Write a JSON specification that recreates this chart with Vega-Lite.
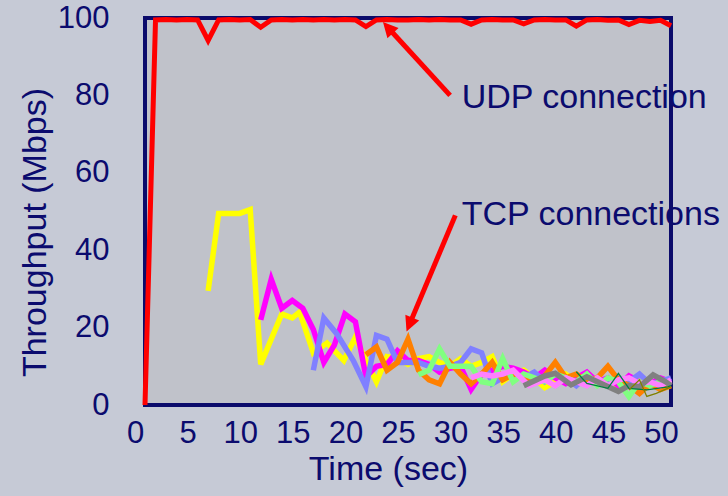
{
  "$schema": "https://vega.github.io/schema/vega-lite/v6.json",
  "width": 526,
  "height": 387,
  "autosize": "none",
  "padding": {"left": 145, "top": 18, "right": 57, "bottom": 91},
  "background": "#c6cad6",
  "config": {
    "view": {"fill": "#c0c2ca", "stroke": "#0b0b6b", "strokeWidth": 4},
    "font": "Liberation Sans",
    "axis": {"grid": false, "domain": false, "ticks": false, "labelFlush": false, "labelOverlap": false, "labelColor": "#0b0b6e", "titleColor": "#0b0b6e", "labelFont": "Liberation Sans", "titleFont": "Liberation Sans", "titleFontWeight": "normal"}
  },
  "datasets": {
    "series": [
      {"series": "UDP", "t": 0, "v": 0}, {"series": "UDP", "t": 1, "v": 99.5}, {"series": "UDP", "t": 2, "v": 99.6}, {"series": "UDP", "t": 3, "v": 99.5}, {"series": "UDP", "t": 4, "v": 99.6}, {"series": "UDP", "t": 5, "v": 99.5}, {"series": "UDP", "t": 6, "v": 94.2}, {"series": "UDP", "t": 7, "v": 99.5}, {"series": "UDP", "t": 8, "v": 99.6}, {"series": "UDP", "t": 9, "v": 99.5}, {"series": "UDP", "t": 10, "v": 99.6}, {"series": "UDP", "t": 11, "v": 97.6}, {"series": "UDP", "t": 12, "v": 99.5}, {"series": "UDP", "t": 13, "v": 99.6}, {"series": "UDP", "t": 14, "v": 99.5}, {"series": "UDP", "t": 15, "v": 99.6}, {"series": "UDP", "t": 16, "v": 99.5}, {"series": "UDP", "t": 17, "v": 99.6}, {"series": "UDP", "t": 18, "v": 99.5}, {"series": "UDP", "t": 19, "v": 99.6}, {"series": "UDP", "t": 20, "v": 99.5}, {"series": "UDP", "t": 21, "v": 97.8}, {"series": "UDP", "t": 22, "v": 99.5}, {"series": "UDP", "t": 23, "v": 99.6}, {"series": "UDP", "t": 24, "v": 99.5}, {"series": "UDP", "t": 25, "v": 99.5}, {"series": "UDP", "t": 26, "v": 99.6}, {"series": "UDP", "t": 27, "v": 99.5}, {"series": "UDP", "t": 28, "v": 99.6}, {"series": "UDP", "t": 29, "v": 99.5}, {"series": "UDP", "t": 30, "v": 99.5}, {"series": "UDP", "t": 31, "v": 98.4}, {"series": "UDP", "t": 32, "v": 99.5}, {"series": "UDP", "t": 33, "v": 99.6}, {"series": "UDP", "t": 34, "v": 99.5}, {"series": "UDP", "t": 35, "v": 99.5}, {"series": "UDP", "t": 36, "v": 98.5}, {"series": "UDP", "t": 37, "v": 99.5}, {"series": "UDP", "t": 38, "v": 99.6}, {"series": "UDP", "t": 39, "v": 99.5}, {"series": "UDP", "t": 40, "v": 99.5}, {"series": "UDP", "t": 41, "v": 97.9}, {"series": "UDP", "t": 42, "v": 99.5}, {"series": "UDP", "t": 43, "v": 99.6}, {"series": "UDP", "t": 44, "v": 99.4}, {"series": "UDP", "t": 45, "v": 99.5}, {"series": "UDP", "t": 46, "v": 98.3}, {"series": "UDP", "t": 47, "v": 99.4}, {"series": "UDP", "t": 48, "v": 99.1}, {"series": "UDP", "t": 49, "v": 99.4}, {"series": "UDP", "t": 50, "v": 98.0},

      {"series": "TCP1", "t": 6, "v": 29.5}, {"series": "TCP1", "t": 7, "v": 49.5}, {"series": "TCP1", "t": 9, "v": 49.5}, {"series": "TCP1", "t": 10, "v": 50.5}, {"series": "TCP1", "t": 11, "v": 10.5}, {"series": "TCP1", "t": 13, "v": 23.5}, {"series": "TCP1", "t": 14, "v": 22.5}, {"series": "TCP1", "t": 14.7, "v": 24}, {"series": "TCP1", "t": 16, "v": 13.5}, {"series": "TCP1", "t": 17.3, "v": 16}, {"series": "TCP1", "t": 18.9, "v": 11.5}, {"series": "TCP1", "t": 20, "v": 17.5}, {"series": "TCP1", "t": 21, "v": 11.5}, {"series": "TCP1", "t": 22, "v": 6}, {"series": "TCP1", "t": 23, "v": 12.5}, {"series": "TCP1", "t": 24, "v": 12}, {"series": "TCP1", "t": 25, "v": 10.5}, {"series": "TCP1", "t": 26, "v": 12}, {"series": "TCP1", "t": 27, "v": 12.5}, {"series": "TCP1", "t": 28, "v": 11}, {"series": "TCP1", "t": 29, "v": 10}, {"series": "TCP1", "t": 30, "v": 12}, {"series": "TCP1", "t": 31, "v": 10}, {"series": "TCP1", "t": 32, "v": 11}, {"series": "TCP1", "t": 33, "v": 12.5}, {"series": "TCP1", "t": 34, "v": 6}, {"series": "TCP1", "t": 35, "v": 8}, {"series": "TCP1", "t": 36, "v": 9}, {"series": "TCP1", "t": 37, "v": 7}, {"series": "TCP1", "t": 38, "v": 4.5}, {"series": "TCP1", "t": 39, "v": 6}, {"series": "TCP1", "t": 40, "v": 8}, {"series": "TCP1", "t": 41, "v": 6}, {"series": "TCP1", "t": 42, "v": 7}, {"series": "TCP1", "t": 43, "v": 5.5}, {"series": "TCP1", "t": 44, "v": 6.5}, {"series": "TCP1", "t": 45, "v": 5}, {"series": "TCP1", "t": 46, "v": 7}, {"series": "TCP1", "t": 47, "v": 6}, {"series": "TCP1", "t": 48, "v": 5}, {"series": "TCP1", "t": 49, "v": 6.5}, {"series": "TCP1", "t": 50, "v": 5.5},

      {"series": "TCP2", "t": 11, "v": 22}, {"series": "TCP2", "t": 12, "v": 32.5}, {"series": "TCP2", "t": 13, "v": 25}, {"series": "TCP2", "t": 14, "v": 27}, {"series": "TCP2", "t": 15, "v": 25}, {"series": "TCP2", "t": 16, "v": 19.5}, {"series": "TCP2", "t": 17, "v": 11}, {"series": "TCP2", "t": 18, "v": 15.5}, {"series": "TCP2", "t": 19, "v": 23.5}, {"series": "TCP2", "t": 20, "v": 21.5}, {"series": "TCP2", "t": 21, "v": 7.3}, {"series": "TCP2", "t": 22, "v": 10}, {"series": "TCP2", "t": 23, "v": 10.5}, {"series": "TCP2", "t": 24, "v": 14}, {"series": "TCP2", "t": 25, "v": 11.5}, {"series": "TCP2", "t": 26, "v": 11.5}, {"series": "TCP2", "t": 27, "v": 10.5}, {"series": "TCP2", "t": 28, "v": 8.5}, {"series": "TCP2", "t": 29, "v": 9.5}, {"series": "TCP2", "t": 30, "v": 10}, {"series": "TCP2", "t": 31, "v": 4}, {"series": "TCP2", "t": 32, "v": 8}, {"series": "TCP2", "t": 33, "v": 9}, {"series": "TCP2", "t": 34, "v": 10}, {"series": "TCP2", "t": 35, "v": 9.5}, {"series": "TCP2", "t": 36, "v": 8.5}, {"series": "TCP2", "t": 37, "v": 7}, {"series": "TCP2", "t": 38, "v": 9}, {"series": "TCP2", "t": 39, "v": 7}, {"series": "TCP2", "t": 40, "v": 5.5}, {"series": "TCP2", "t": 41, "v": 7}, {"series": "TCP2", "t": 42, "v": 8.5}, {"series": "TCP2", "t": 43, "v": 6}, {"series": "TCP2", "t": 44, "v": 7}, {"series": "TCP2", "t": 45, "v": 5}, {"series": "TCP2", "t": 46, "v": 7.5}, {"series": "TCP2", "t": 47, "v": 6}, {"series": "TCP2", "t": 48, "v": 5.5}, {"series": "TCP2", "t": 49, "v": 7}, {"series": "TCP2", "t": 50, "v": 6},

      {"series": "TCP3", "t": 16, "v": 9}, {"series": "TCP3", "t": 17, "v": 22.5}, {"series": "TCP3", "t": 18.2, "v": 18.5}, {"series": "TCP3", "t": 19.8, "v": 11.5}, {"series": "TCP3", "t": 21, "v": 4.7}, {"series": "TCP3", "t": 22, "v": 18}, {"series": "TCP3", "t": 23, "v": 17}, {"series": "TCP3", "t": 24, "v": 11}, {"series": "TCP3", "t": 25, "v": 11}, {"series": "TCP3", "t": 26, "v": 11}, {"series": "TCP3", "t": 27, "v": 10}, {"series": "TCP3", "t": 28, "v": 9.5}, {"series": "TCP3", "t": 29, "v": 10}, {"series": "TCP3", "t": 30, "v": 11}, {"series": "TCP3", "t": 31, "v": 14.5}, {"series": "TCP3", "t": 32, "v": 13.5}, {"series": "TCP3", "t": 33, "v": 5.5}, {"series": "TCP3", "t": 34, "v": 7}, {"series": "TCP3", "t": 35, "v": 8}, {"series": "TCP3", "t": 36, "v": 7}, {"series": "TCP3", "t": 37, "v": 8.5}, {"series": "TCP3", "t": 38, "v": 6}, {"series": "TCP3", "t": 39, "v": 8}, {"series": "TCP3", "t": 40, "v": 7}, {"series": "TCP3", "t": 41, "v": 5}, {"series": "TCP3", "t": 42, "v": 7.5}, {"series": "TCP3", "t": 43, "v": 6}, {"series": "TCP3", "t": 44, "v": 5.5}, {"series": "TCP3", "t": 45, "v": 7}, {"series": "TCP3", "t": 46, "v": 6}, {"series": "TCP3", "t": 47, "v": 8}, {"series": "TCP3", "t": 48, "v": 5.5}, {"series": "TCP3", "t": 49, "v": 6}, {"series": "TCP3", "t": 50, "v": 7},

      {"series": "TCP4", "t": 21, "v": 13}, {"series": "TCP4", "t": 22, "v": 15}, {"series": "TCP4", "t": 23, "v": 9}, {"series": "TCP4", "t": 24, "v": 11}, {"series": "TCP4", "t": 25, "v": 17}, {"series": "TCP4", "t": 26, "v": 9}, {"series": "TCP4", "t": 27, "v": 6.5}, {"series": "TCP4", "t": 28, "v": 5.5}, {"series": "TCP4", "t": 29, "v": 11}, {"series": "TCP4", "t": 30, "v": 8}, {"series": "TCP4", "t": 31, "v": 5.5}, {"series": "TCP4", "t": 32, "v": 8}, {"series": "TCP4", "t": 33, "v": 11}, {"series": "TCP4", "t": 34, "v": 6.5}, {"series": "TCP4", "t": 35, "v": 8}, {"series": "TCP4", "t": 36, "v": 7}, {"series": "TCP4", "t": 37, "v": 6}, {"series": "TCP4", "t": 38, "v": 7.5}, {"series": "TCP4", "t": 39, "v": 11}, {"series": "TCP4", "t": 40, "v": 7}, {"series": "TCP4", "t": 41, "v": 8}, {"series": "TCP4", "t": 42, "v": 6}, {"series": "TCP4", "t": 43, "v": 7}, {"series": "TCP4", "t": 44, "v": 10}, {"series": "TCP4", "t": 45, "v": 6.5}, {"series": "TCP4", "t": 46, "v": 5}, {"series": "TCP4", "t": 47, "v": 3}, {"series": "TCP4", "t": 48, "v": 5.5}, {"series": "TCP4", "t": 49, "v": 4}, {"series": "TCP4", "t": 50, "v": 5},

      {"series": "TCP5", "t": 26, "v": 7.8}, {"series": "TCP5", "t": 27, "v": 9}, {"series": "TCP5", "t": 28, "v": 14.5}, {"series": "TCP5", "t": 29, "v": 10}, {"series": "TCP5", "t": 30, "v": 10}, {"series": "TCP5", "t": 31, "v": 10}, {"series": "TCP5", "t": 32, "v": 6}, {"series": "TCP5", "t": 33, "v": 5.5}, {"series": "TCP5", "t": 34, "v": 12}, {"series": "TCP5", "t": 35, "v": 6}, {"series": "TCP5", "t": 36, "v": 8}, {"series": "TCP5", "t": 37, "v": 7}, {"series": "TCP5", "t": 38, "v": 6}, {"series": "TCP5", "t": 39, "v": 8}, {"series": "TCP5", "t": 40, "v": 7}, {"series": "TCP5", "t": 41, "v": 6}, {"series": "TCP5", "t": 42, "v": 8}, {"series": "TCP5", "t": 43, "v": 5}, {"series": "TCP5", "t": 44, "v": 7}, {"series": "TCP5", "t": 45, "v": 6}, {"series": "TCP5", "t": 46, "v": 2.2}, {"series": "TCP5", "t": 47, "v": 6}, {"series": "TCP5", "t": 48, "v": 5}, {"series": "TCP5", "t": 49, "v": 6}, {"series": "TCP5", "t": 50, "v": 5.5},

      {"series": "TCP6", "t": 31, "v": 7}, {"series": "TCP6", "t": 32, "v": 8}, {"series": "TCP6", "t": 33, "v": 7.5}, {"series": "TCP6", "t": 34, "v": 8}, {"series": "TCP6", "t": 35, "v": 9}, {"series": "TCP6", "t": 36.5, "v": 5}, {"series": "TCP6", "t": 38, "v": 6.5}, {"series": "TCP6", "t": 39, "v": 5}, {"series": "TCP6", "t": 40, "v": 7}, {"series": "TCP6", "t": 41, "v": 6}, {"series": "TCP6", "t": 42, "v": 5}, {"series": "TCP6", "t": 43, "v": 7}, {"series": "TCP6", "t": 44, "v": 5}, {"series": "TCP6", "t": 45, "v": 6.5}, {"series": "TCP6", "t": 46, "v": 7}, {"series": "TCP6", "t": 47, "v": 5.5}, {"series": "TCP6", "t": 48, "v": 6}, {"series": "TCP6", "t": 49, "v": 5}, {"series": "TCP6", "t": 50, "v": 6.5},

      {"series": "TCP7", "t": 36, "v": 5}, {"series": "TCP7", "t": 38, "v": 7.5}, {"series": "TCP7", "t": 39, "v": 8.2}, {"series": "TCP7", "t": 40.5, "v": 5.2}, {"series": "TCP7", "t": 42, "v": 7.3}, {"series": "TCP7", "t": 43, "v": 6}, {"series": "TCP7", "t": 45, "v": 3.5}, {"series": "TCP7", "t": 46, "v": 5}, {"series": "TCP7", "t": 47, "v": 4.7}, {"series": "TCP7", "t": 48.3, "v": 7.8}, {"series": "TCP7", "t": 49.5, "v": 6}, {"series": "TCP7", "t": 50, "v": 5},

      {"series": "TCP8", "t": 41, "v": 8.6}, {"series": "TCP8", "t": 42, "v": 5.6}, {"series": "TCP8", "t": 44, "v": 4.3}, {"series": "TCP8", "t": 45, "v": 8.2}, {"series": "TCP8", "t": 46, "v": 4.3}, {"series": "TCP8", "t": 47.7, "v": 3.9}, {"series": "TCP8", "t": 49.7, "v": 4.7}, {"series": "TCP8", "t": 50, "v": 5},

      {"series": "TCP9", "t": 46, "v": 3.9}, {"series": "TCP9", "t": 47, "v": 6.5}, {"series": "TCP9", "t": 47.7, "v": 2.2}, {"series": "TCP9", "t": 48.6, "v": 3}, {"series": "TCP9", "t": 50, "v": 4.7}
    ],
    "notes": [
      {"label": "UDP connection", "x": 30.1, "y": 79.3, "x0": 29.0, "y0": 80.0, "x1": 23.13, "y1": 97.4, "tx": 22.62, "ty": 98.97, "kind": "udp"},
      {"label": "TCP connections", "x": 30.1, "y": 49.1, "x0": 29.5, "y0": 49.0, "x1": 25.15, "y1": 20.9, "tx": 24.86, "ty": 18.99, "kind": "tcp"}
    ]
  },
  "layer": [
    {
      "data": {"name": "series"},
      "transform": [{"filter": "datum.series !== 'UDP' && datum.series !== 'TCP8' && datum.series !== 'TCP9'"}],
      "mark": {"type": "line", "strokeWidth": 5.5, "strokeJoin": "miter"},
      "encoding": {
        "x": {"field": "t", "type": "quantitative", "scale": {"domain": [0, 50], "nice": false, "zero": false},
          "axis": {"values": [0, 5, 10, 15, 20, 25, 30, 35, 40, 45, 50], "labelFontSize": 31, "labelOffset": -10, "labelPadding": 13, "title": "Time (sec)", "titleFontSize": 34, "titlePadding": 4, "titleX": 243}},
        "y": {"field": "v", "type": "quantitative", "scale": {"domain": [0, 100], "nice": false},
          "axis": {"values": [0, 20, 40, 60, 80, 100], "labelFontSize": 31, "labelPadding": 36, "title": "Throughput (Mbps)", "titleFontSize": 34, "titleX": -110, "titleY": 214, "titleAngle": -90, "titleBaseline": "middle", "titleAlign": "center"}},
        "color": {"field": "series", "type": "nominal", "legend": null,
          "scale": {"domain": ["UDP", "TCP1", "TCP2", "TCP3", "TCP4", "TCP5", "TCP6", "TCP7", "TCP8", "TCP9"],
                    "range": ["#ff0000", "#ffff00", "#ff00ff", "#8080ff", "#ff8000", "#80ff80", "#ff80ff", "#808080", "#008040", "#808000"]}},
        "order": {"field": "t", "type": "quantitative"}
      }
    },
    {
      "data": {"name": "series"},
      "transform": [{"filter": "datum.series === 'TCP8' || datum.series === 'TCP9'"}],
      "mark": {"type": "line", "strokeWidth": 1.3},
      "encoding": {
        "x": {"field": "t", "type": "quantitative"},
        "y": {"field": "v", "type": "quantitative"},
        "color": {"field": "series", "type": "nominal", "legend": null},
        "order": {"field": "t", "type": "quantitative"}
      }
    },
    {
      "data": {"name": "series"},
      "transform": [{"filter": "datum.series === 'UDP'"}],
      "mark": {"type": "line", "strokeWidth": 5, "strokeJoin": "miter"},
      "encoding": {
        "x": {"field": "t", "type": "quantitative"},
        "y": {"field": "v", "type": "quantitative"},
        "color": {"field": "series", "type": "nominal", "legend": null},
        "order": {"field": "t", "type": "quantitative"}
      }
    },
    {
      "data": {"name": "notes"},
      "mark": {"type": "rule", "color": "#ff0000", "strokeWidth": 5},
      "encoding": {
        "x": {"field": "x0", "type": "quantitative"},
        "y": {"field": "y0", "type": "quantitative"},
        "x2": {"field": "x1"},
        "y2": {"field": "y1"}
      }
    },
    {
      "data": {"name": "notes"},
      "transform": [{"filter": "datum.kind === 'udp'"}],
      "mark": {"type": "point", "shape": "M0,0L-0.5,1L0.5,1Z", "filled": true, "color": "#ff0000", "opacity": 1, "size": 900, "angle": 318},
      "encoding": {
        "x": {"field": "tx", "type": "quantitative"},
        "y": {"field": "ty", "type": "quantitative"}
      }
    },
    {
      "data": {"name": "notes"},
      "transform": [{"filter": "datum.kind === 'tcp'"}],
      "mark": {"type": "point", "shape": "M0,0L-0.5,1L0.5,1Z", "filled": true, "color": "#ff0000", "opacity": 1, "size": 900, "angle": 202.5},
      "encoding": {
        "x": {"field": "tx", "type": "quantitative"},
        "y": {"field": "ty", "type": "quantitative"}
      }
    },
    {
      "data": {"name": "notes"},
      "mark": {"type": "text", "align": "left", "baseline": "middle", "fontSize": 34, "color": "#0b0b6e", "font": "Liberation Sans"},
      "encoding": {
        "x": {"field": "x", "type": "quantitative"},
        "y": {"field": "y", "type": "quantitative"},
        "text": {"field": "label"}
      }
    }
  ]
}
